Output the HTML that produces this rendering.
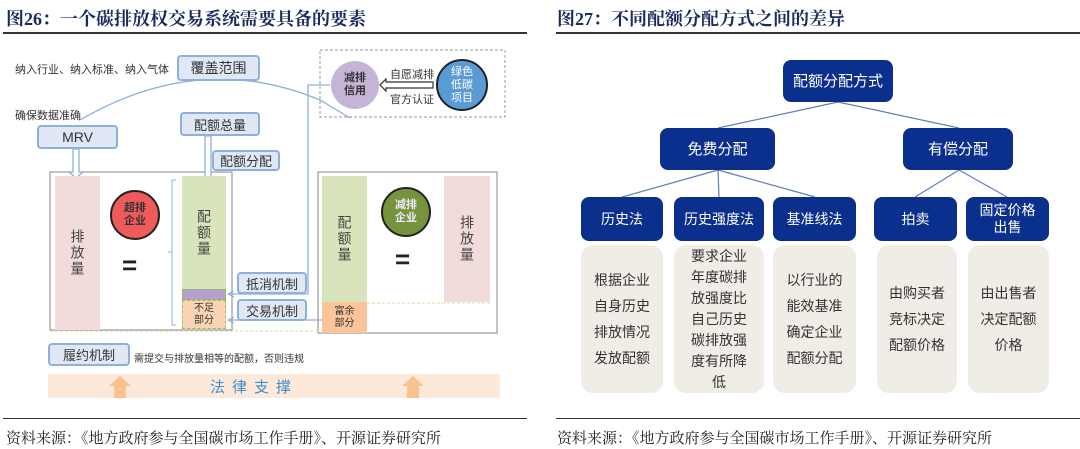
<!DOCTYPE html>
<html><head><meta charset="utf-8"><style>
*{margin:0;padding:0;box-sizing:border-box}
body{width:1080px;height:449px;background:#fff;position:relative;overflow:hidden;font-family:"Liberation Sans","Noto Sans CJK SC",sans-serif;color:#333}
.a{position:absolute}
.t{font-family:"Liberation Serif","Noto Serif CJK SC",serif;font-weight:bold;font-size:18px;color:#1a2a5c;top:5px}
.hl{position:absolute;height:2px;background:#333;top:32px}
.src{font-family:"Liberation Serif","Noto Serif CJK SC",serif;font-size:15px;color:#222;top:427px}
.lb{position:absolute;border:2px solid #8fb0dc;background:#dfe8f4;border-radius:4px;font-size:13px;color:#333;display:flex;align-items:center;justify-content:center}
.vt{position:absolute;display:flex;align-items:center;justify-content:center;writing-mode:vertical-rl;font-size:14px;color:#444;letter-spacing:2px}
.circ{position:absolute;border-radius:50%;display:flex;align-items:center;justify-content:center;text-align:center;font-weight:bold;font-size:11px;line-height:13px;border:2px solid #222}
.db{position:absolute;background:#0b2f8c;color:#fff;border-radius:8px;display:flex;align-items:center;justify-content:center;text-align:center;font-size:14px;line-height:17px}
.cb{position:absolute;background:#efede6;border-radius:12px;display:flex;align-items:center;justify-content:center;text-align:center;font-size:14px;color:#333}
</style></head><body>
<div class="a t" style="left:6px">图26：一个碳排放权交易系统需要具备的要素</div>
<div class="a t" style="left:557px">图27：不同配额分配方式之间的差异</div>
<div class="hl" style="left:3px;width:524px"></div>
<div class="hl" style="left:556px;width:524px"></div>
<div class="hl" style="left:3px;width:524px;top:418px;height:1px"></div>
<div class="hl" style="left:556px;width:524px;top:418px;height:1px"></div>
<div class="a src" style="left:6px">资料来源：《地方政府参与全国碳市场工作手册》、开源证券研究所</div>
<div class="a src" style="left:557px">资料来源：《地方政府参与全国碳市场工作手册》、开源证券研究所</div>

<svg class="a" style="left:0;top:0" width="540" height="420">
<path d="M80 120 Q200 50 320 100 L350 118" fill="none" stroke="#8fb0dc" stroke-width="1.3"/>
<rect x="320" y="50" width="185" height="67" fill="none" stroke="#999" stroke-dasharray="3,2"/>
<rect x="50" y="172" width="182" height="158" fill="none" stroke="#999" stroke-width="1.2"/>
<rect x="318" y="172" width="179" height="161" fill="none" stroke="#999" stroke-width="1.2"/>
<line x1="50" y1="331" x2="320" y2="331" stroke="#cde3a8" stroke-dasharray="3,2"/>
<line x1="367" y1="303" x2="490" y2="303" stroke="#cde3a8" stroke-dasharray="3,2"/>
<path d="M176 180 L172 180 L172 325 L176 325 M172 252 L168 252" fill="none" stroke="#8fb0dc"/>
<path d="M330 85 L308 85 L308 294 L230 294" fill="none" stroke="#8fb0dc" stroke-width="1.3"/>
<path d="M234 291 L228 294 L234 297" fill="none" stroke="#8fb0dc"/>
<path d="M322 320 L230 320" fill="none" stroke="#8fb0dc" stroke-width="1.3"/>
<path d="M234 317 L228 320 L234 323" fill="none" stroke="#8fb0dc"/>
<path d="M73 149 L79 149 L79 172 L83 172 L76 178 L69 172 L73 172Z" fill="#fff" stroke="#8fb0dc" stroke-width="1.3"/>
<path d="M205 136 L211 136 L211 178 L215 178 L208 184 L201 178 L205 178Z" fill="#fff" stroke="#8fb0dc" stroke-width="1.3"/>
<path d="M433 82 L386 82 L386 79 L380 85 L386 91 L386 88 L433 88Z" fill="#fff" stroke="#333" stroke-width="1.2"/>
<rect x="48" y="374" width="452" height="24" fill="#fde9d9"/>
<path d="M114 398 L114 386 L109 386 L120 376 L131 386 L126 386 L126 398Z" fill="#fbc18f"/>
<path d="M407 398 L407 386 L402 386 L413 376 L424 386 L419 386 L419 398Z" fill="#fbc18f"/>
</svg>

<div class="a" style="left:15px;top:61px;font-size:11px">纳入行业、纳入标准、纳入气体</div>
<div class="a" style="left:15px;top:107px;font-size:11px">确保数据准确</div>
<div class="lb" style="left:177px;top:55px;width:83px;height:26px;font-size:14px">覆盖范围</div>
<div class="lb" style="left:37px;top:125px;width:81px;height:24px;font-size:14px">MRV</div>
<div class="lb" style="left:180px;top:112px;width:80px;height:24px">配额总量</div>
<div class="lb" style="left:212px;top:150px;width:68px;height:21px">配额分配</div>

<div class="vt" style="left:55px;top:176px;width:45px;height:154px;background:#f2dcdb">排放量</div>
<div class="circ" style="left:110px;top:190px;width:50px;height:50px;background:#f05a5a">超排<br>企业</div>
<div class="a" style="left:122px;top:250px;font-size:26px;font-weight:bold;color:#222">=</div>
<div class="vt" style="left:182px;top:176px;width:44px;height:114px;background:#d8e4bc">配额量</div>
<div class="a" style="left:182px;top:289px;width:44px;height:11px;background:#b4a0cc;border:1px dashed #9bbb59"></div>
<div class="a" style="left:182px;top:300px;width:44px;height:29px;background:#fbd4b4;border:1px dashed #9bbb59;font-size:10px;line-height:12px;text-align:center;padding-top:2px">不足<br>部分</div>
<div class="lb" style="left:237px;top:272px;width:70px;height:22px">抵消机制</div>
<div class="lb" style="left:237px;top:299px;width:70px;height:22px">交易机制</div>

<div class="vt" style="left:322px;top:176px;width:45px;height:126px;background:#d8e4bc">配额量</div>
<div class="a" style="left:322px;top:302px;width:45px;height:31px;background:#fbc49a;font-size:10px;line-height:12px;text-align:center;padding-top:4px">富余<br>部分</div>
<div class="circ" style="left:381px;top:187px;width:50px;height:50px;background:#77933c;color:#eef">减排<br>企业</div>
<div class="a" style="left:395px;top:244px;font-size:26px;font-weight:bold;color:#222">=</div>
<div class="vt" style="left:444px;top:176px;width:46px;height:126px;background:#f2dcdb">排放量</div>

<div class="circ" style="left:331px;top:61px;width:48px;height:48px;background:#c6b4d8;border:none;color:#333">减排<br>信用</div>
<div class="circ" style="left:436px;top:59px;width:52px;height:52px;background:#5b9bd5;color:#fff;font-weight:normal">绿色<br>低碳<br>项目</div>
<div class="a" style="left:390px;top:66px;font-size:11px">自愿减排</div>
<div class="a" style="left:390px;top:91px;font-size:11px">官方认证</div>

<div class="lb" style="left:48px;top:343px;width:82px;height:23px">履约机制</div>
<div class="a" style="left:134px;top:350px;font-size:10px">需提交与排放量相等的配额，否则违规</div>
<div class="a" style="left:210px;top:376px;font-size:15px;color:#3e8fcf;letter-spacing:7px">法律支撑</div>

<svg class="a" style="left:555px;top:0" width="525" height="420">
<g stroke="#5b7fbf" stroke-width="1.2" fill="none">
<path d="M283 102 L163 128 M283 102 L404 128"/>
<path d="M163 170 L67 197 M163 170 L164 197 M163 170 L260 197"/>
<path d="M404 170 L360 197 M404 170 L452 197"/>
</g>
</svg>
<div class="db" style="left:783px;top:60px;width:110px;height:42px;font-size:15px">配额分配方式</div>
<div class="db" style="left:660px;top:128px;width:115px;height:42px;font-size:15px">免费分配</div>
<div class="db" style="left:903px;top:128px;width:110px;height:42px;font-size:15px">有偿分配</div>
<div class="db" style="left:581px;top:197px;width:82px;height:44px">历史法</div>
<div class="db" style="left:674px;top:197px;width:90px;height:44px">历史强度法</div>
<div class="db" style="left:773px;top:197px;width:83px;height:44px">基准线法</div>
<div class="db" style="left:874px;top:197px;width:83px;height:44px">拍卖</div>
<div class="db" style="left:966px;top:197px;width:83px;height:44px">固定价格<br>出售</div>
<div class="cb" style="left:581px;top:245px;width:82px;height:148px;line-height:26px">根据企业<br>自身历史<br>排放情况<br>发放配额</div>
<div class="cb" style="left:674px;top:245px;width:90px;height:148px;line-height:21px">要求企业<br>年度碳排<br>放强度比<br>自己历史<br>碳排放强<br>度有所降<br>低</div>
<div class="cb" style="left:773px;top:245px;width:83px;height:148px;line-height:26px">以行业的<br>能效基准<br>确定企业<br>配额分配</div>
<div class="cb" style="left:877px;top:245px;width:80px;height:148px;line-height:26px">由购买者<br>竞标决定<br>配额价格</div>
<div class="cb" style="left:968px;top:245px;width:81px;height:148px;line-height:26px">由出售者<br>决定配额<br>价格</div>
</body></html>
